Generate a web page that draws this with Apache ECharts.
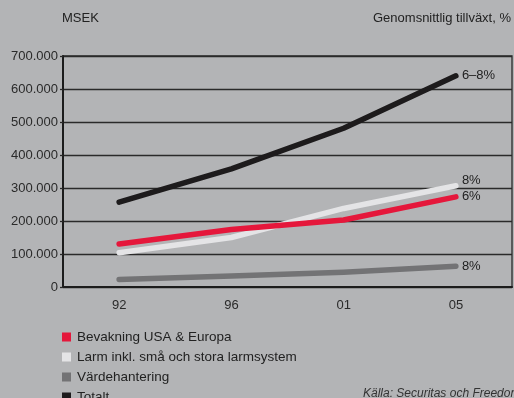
<!DOCTYPE html>
<html><head><meta charset="utf-8">
<script src="https://cdn.jsdelivr.net/npm/echarts@6/dist/echarts.min.js"></script>
<style>html,body{margin:0;padding:0;background:#b3b4b6}#c{width:514px;height:398px}</style>
</head><body><div id="c"></div>
<script>
const categories = ['92', '96', '01', '05'];
const seriesNames = ['Bevakning USA & Europa', 'Larm inkl. små och stora larmsystem', 'Värdehantering', 'Totalt'];
const bevakning = [130000, 174000, 203000, 273000];
const larm = [104000, 150000, 238000, 307000];
const vardehantering = [23000, 33000, 45000, 63000];
const totalt = [257000, 358000, 481000, 640000];
const growthLabels = ['6%', '8%', '8%', '6–8%'];
const yTicks = [0, 100000, 200000, 300000, 400000, 500000, 600000, 700000];

const colors = ['#e5173b', '#e4e4e6', '#737375', '#1d1b1c'];
const labelOffsets = [[0, 0], [0, -5], [0, 0], [0, 0]];
const values = [bevakning, larm, vardehantering, totalt];

function fmt(v) {
  if (v === 0) return '0';
  const s = String(Math.round(v));
  return s.replace(/\B(?=(\d{3})+(?!\d))/g, '.');
}

const font = 'Liberation Sans, Arial, sans-serif';
const chart = echarts.init(document.getElementById('c'), null, {renderer: 'canvas'});
chart.setOption({
  backgroundColor: '#b3b4b6',
  animation: false,
  grid: {left: 63, right: 2, top: 56, bottom: 111, show: true, borderColor: '#2a2a2a', borderWidth: 1.3, backgroundColor: 'transparent'},
  xAxis: {
    type: 'category', data: categories, boundaryGap: true,
    axisLine: {lineStyle: {color: '#1c1c1c', width: 2}},
    axisTick: {show: false},
    axisLabel: {color: '#2a2a2a', fontSize: 13, fontFamily: font, margin: 12}
  },
  yAxis: {
    type: 'value', min: yTicks[0], max: yTicks[yTicks.length - 1], interval: 100000,
    axisLine: {show: true, lineStyle: {color: '#1c1c1c', width: 2}},
    axisTick: {show: true, length: 3, lineStyle: {color: '#2a2a2a', width: 1.3}},
    splitLine: {lineStyle: {color: '#2a2a2a', width: 1.3}},
    axisLabel: {color: '#2a2a2a', fontSize: 13, fontFamily: font, margin: 5, formatter: fmt}
  },
  legend: seriesNames.map((name, i) => ({
    orient: 'vertical', left: 62, top: 330 + i * 20, itemWidth: 9, itemHeight: 9, padding: 0,
    icon: 'rect', data: [name],
    textStyle: {color: '#222', fontSize: 13.5, fontFamily: font, padding: [0, 0, 0, 1]}
  })),
  graphic: [
    {type: 'text', left: 62, top: 12, style: {text: 'MSEK', fill: '#222', font: '13px ' + font}},
    {type: 'text', right: 3, top: 12, style: {text: 'Genomsnittlig tillväxt, %', fill: '#222', font: '13px ' + font}},
    {type: 'text', left: 363, top: 388, style: {text: 'Källa: Securitas och Freedonia', fill: '#333', font: 'italic 12px ' + font}}
  ],
  series: seriesNames.map((name, i) => ({
    name: name, type: 'line', data: values[i], symbol: 'none',
    lineStyle: {color: colors[i], width: 5.5, cap: 'round', join: 'round'},
    itemStyle: {color: colors[i]},
    z: i === 1 ? 2 : 3,
    endLabel: {show: true, formatter: growthLabels[i], color: '#222', fontSize: 13, fontFamily: font, distance: 6, offset: labelOffsets[i]}
  }))
});
</script></body></html>
